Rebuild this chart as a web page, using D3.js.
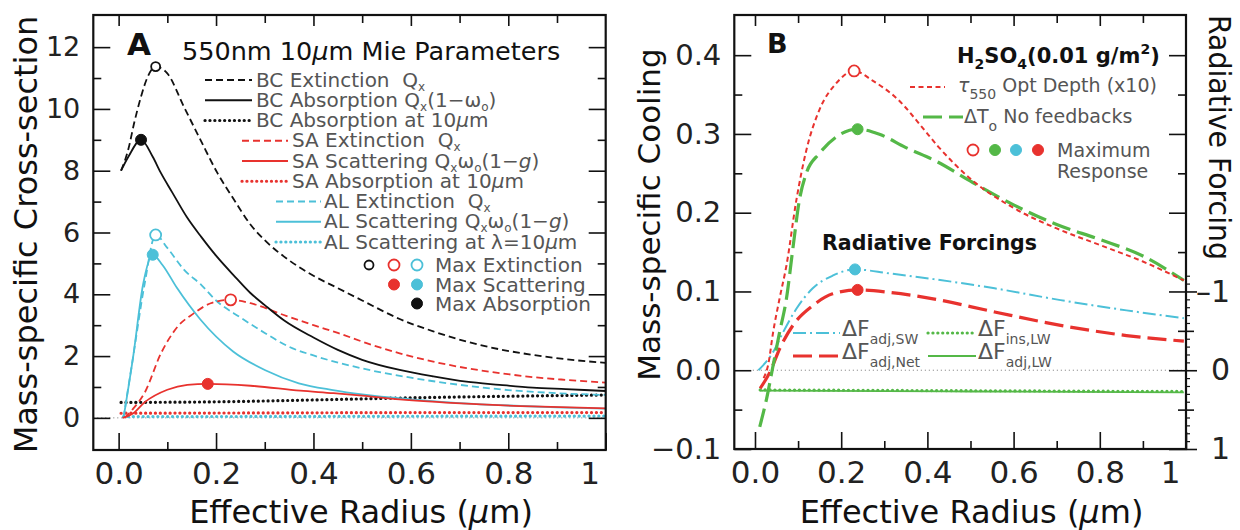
<!DOCTYPE html>
<html><head><meta charset="utf-8">
<script src="https://cdn.jsdelivr.net/npm/d3@7"></script>
<style>
body{margin:0;background:#fff}
svg{display:block}
text{font-family:"DejaVu Sans",sans-serif}
</style>
</head><body>
<svg id="c" width="1240" height="530"></svg>
<script>
// ---------------- DATA : panel A (Mie parameters) ----------------
const bcExtR = [0.005,0.02,0.032,0.046,0.06,0.076,0.1,0.134,0.168,0.203,0.237,0.271,0.3,0.35,0.4,0.45,0.5,0.577,0.646,0.714,0.782,0.85,0.918,1.0];
const bcExtV = [8.0,8.7,9.55,10.4,11.05,11.37,11.15,10.07,9.0,7.92,7.06,6.25,5.75,5.1,4.6,4.2,3.8,3.2,2.8,2.47,2.22,2.04,1.9,1.78];
const bcAbsR = [0.005,0.02,0.046,0.07,0.087,0.11,0.14,0.17,0.2,0.24,0.27,0.3,0.34,0.4,0.45,0.5,0.577,0.646,0.714,0.782,0.85,0.918,1.0];
const bcAbsV = [8.0,8.45,9.0,8.45,7.92,7.3,6.5,5.85,5.25,4.55,4.05,3.65,3.15,2.6,2.2,1.88,1.55,1.34,1.17,1.07,0.98,0.93,0.87];
const bc10R = [0.005,0.2,0.4,0.6,0.8,1.0];
const bc10V = [0.5,0.52,0.58,0.65,0.7,0.74];
const saExtR = [0.012,0.03,0.053,0.087,0.121,0.155,0.189,0.23,0.271,0.339,0.4,0.45,0.509,0.577,0.646,0.714,0.782,0.85,0.918,1.0];
const saExtV = [0.0,0.3,0.8,2.09,2.95,3.39,3.71,3.82,3.71,3.33,3.0,2.75,2.42,2.09,1.82,1.61,1.45,1.32,1.23,1.14];
const saScaR = [0.008,0.03,0.053,0.1,0.141,0.183,0.271,0.373,0.441,0.5,0.577,0.714,0.85,1.0];
const saScaV = [0.0,0.15,0.5,0.91,1.07,1.1,1.04,0.88,0.8,0.72,0.6,0.46,0.37,0.31];
const sa10R = [0.005,0.3,0.6,1.0];
const sa10V = [0.15,0.16,0.17,0.17];
const alExtR = [0.01,0.03,0.053,0.076,0.1,0.134,0.17,0.2,0.25,0.3,0.35,0.4,0.5,0.6,0.7,0.8,0.9,1.0];
const alExtV = [0.0,2.0,4.3,5.92,5.5,4.8,4.3,3.8,3.25,2.75,2.3,2.02,1.6,1.3,1.07,0.9,0.8,0.74];
const alScaR = [0.01,0.03,0.05,0.07,0.09,0.12,0.167,0.235,0.3,0.37,0.44,0.5,0.6,0.7,0.8,0.9,1.0];
const alScaV = [0.0,2.0,4.3,5.28,4.95,4.2,3.2,2.15,1.55,1.12,0.9,0.76,0.6,0.48,0.4,0.34,0.3];
const al10R = [0.01,0.5,1.0];
const al10V = [0.04,0.05,0.06];
// maxima markers [radius, value]
const maxExtA = [[0.076,11.37],[0.23,3.82],[0.076,5.92]];   // BC, SA, AL
const maxScaA = [[0.183,1.1],[0.07,5.28]];                   // SA, AL
const maxAbsA = [[0.046,9.0]];                               // BC

// ---------------- DATA : panel B (H2SO4 response) ----------------
const tauR = [0.02,0.031,0.042,0.057,0.073,0.096,0.119,0.149,0.188,0.23,0.272,0.333,0.387,0.425,0.5,0.6,0.7,0.8,0.9,0.995];
const tauV = [-0.01,0.008,0.048,0.091,0.133,0.216,0.279,0.33,0.364,0.38,0.368,0.343,0.309,0.284,0.243,0.206,0.18,0.159,0.138,0.114];
const dtR = [0.011,0.027,0.042,0.057,0.073,0.088,0.103,0.119,0.149,0.188,0.238,0.287,0.349,0.425,0.5,0.6,0.7,0.8,0.9,0.995];
const dtV = [-0.072,-0.036,0.006,0.048,0.091,0.155,0.216,0.25,0.275,0.296,0.306,0.3,0.283,0.264,0.24,0.21,0.185,0.166,0.145,0.114];
const swR = [0.008,0.042,0.065,0.096,0.134,0.18,0.232,0.31,0.41,0.556,0.709,0.862,0.995];
const swV = [0.0,0.023,0.048,0.078,0.104,0.12,0.128,0.123,0.116,0.104,0.089,0.076,0.066];
const netR = [0.012,0.035,0.057,0.088,0.134,0.18,0.238,0.31,0.41,0.556,0.709,0.862,0.995];
const netV = [-0.023,-0.002,0.027,0.057,0.082,0.097,0.102,0.099,0.091,0.074,0.057,0.044,0.037];
const insR = [0.012,0.5,0.995];
const insV = [-0.025,-0.026,-0.027];
const adjLwR = [0.012,0.5,0.995];
const adjLwV = [-0.026,-0.027,-0.028];
const maxB = { tau:[0.23,0.38], dt:[0.238,0.306], sw:[0.232,0.128], net:[0.238,0.102] };

// ---------------- ticks ----------------
const xMajor = [0,0.2,0.4,0.6,0.8,1];
const xMinor = [0.1,0.3,0.5,0.7,0.9];
const yMajorA = [0,2,4,6,8,10,12];
const yMinorA = [1,3,5,7,9,11];
const yMajorB = [-0.1,0,0.1,0.2,0.3,0.4];
const yMinorB = [-0.05,0.05,0.15,0.25,0.35];
const rMajor = [-1,0,1];
const rMid = [-0.5,0.5];
const rMinor = [-1.2,-1.1,-0.9,-0.8,-0.7,-0.6,-0.4,-0.3,-0.2,-0.1,0.1,0.2,0.3,0.4,0.6,0.7,0.8,0.9];

// ---------------- text content ----------------
const legendA = [
  [{t:"BC Extinction\u00a0\u00a0Q"},{t:"x",sub:1}],
  [{t:"BC Absorption Q"},{t:"x",sub:1},{t:"(1−ω"},{t:"o",sub:1},{t:")"}],
  [{t:"BC Absorption at 10"},{t:"µ",it:1},{t:"m"}],
  [{t:"SA Extinction\u00a0\u00a0Q"},{t:"x",sub:1}],
  [{t:"SA Scattering Q"},{t:"x",sub:1},{t:"ω"},{t:"o",sub:1},{t:"(1−"},{t:"g",it:1},{t:")"}],
  [{t:"SA Absorption at 10"},{t:"µ",it:1},{t:"m"}],
  [{t:"AL Extinction\u00a0\u00a0Q"},{t:"x",sub:1}],
  [{t:"AL Scattering Q"},{t:"x",sub:1},{t:"ω"},{t:"o",sub:1},{t:"(1−"},{t:"g",it:1},{t:")"}],
  [{t:"AL Scattering at λ=10"},{t:"µ",it:1},{t:"m"}]
];
const markLabelsA = ["Max Extinction","Max Scattering","Max Absorption"];

// ---------------- drawing ----------------
const svg = d3.select("#c");
const COL = {k:"#111", r:"#e8322e", c:"#4cc0d8", g:"#54b847", txt:"#555"};
const ST = {
  dash:{w:1.8, da:"7,4"}, solid:{w:1.8, da:null}, dot:{w:3.2, da:"0.1,4.8", cap:"round"},
  tau:{w:2, da:"5,3.5"}, long:{w:3.2, da:"19,7"}, dashdot:{w:2, da:"13,4,2,4"}
};

const xA = d3.scaleLinear([-0.052,1.0],[93.3,605.7]);
const yA = d3.scaleLinear([-1.04,13.04],[450,15]);
const xB = d3.scaleLinear([-0.048,1.0],[734.3,1186]);
const yB = d3.scaleLinear([-0.1,0.451],[449,15]);
const yR = d3.scaleLinear([1,-4.51],[449,15]);

function drawCurve(g, xs, ys, x, y, color, st){
  g.append("path")
    .attr("d", d3.line().x((d,i)=>x(xs[i])).y((d,i)=>y(ys[i])).curve(d3.curveMonotoneX)(xs))
    .attr("fill","none").attr("stroke",color).attr("stroke-width",st.w)
    .attr("stroke-dasharray",st.da).attr("stroke-linecap",st.cap||"butt");
}
function sample(g, x0, x1, yy, color, st){
  g.append("line").attr("x1",x0).attr("x2",x1).attr("y1",yy).attr("y2",yy)
    .attr("stroke",color).attr("stroke-width",st.w).attr("stroke-dasharray",st.da)
    .attr("stroke-linecap",st.cap||"butt");
}
function rich(g, x, y, parts, size, fill, opt){
  opt = opt||{};
  const t = g.append("text").attr("x",x).attr("y",y).attr("font-size",size).attr("fill",fill);
  if(opt.weight) t.attr("font-weight",opt.weight);
  const small = opt.small||Math.round(size*0.66);
  let cur = 0;
  parts.forEach(p=>{
    const off = p.sub ? (opt.subOff||size*0.32) : p.sup ? -size*0.42 : 0;
    const ts = t.append("tspan").attr("dy", off-cur).text(p.t);
    if(p.sub||p.sup) ts.attr("font-size",small);
    if(p.it) ts.attr("font-style","italic");
    cur = off;
  });
  return t;
}
function marker(g, cx, cy, color, open, r){
  g.append("circle").attr("cx",cx).attr("cy",cy).attr("r",r||5.5)
    .attr("fill",open?"#fff":color).attr("stroke",color).attr("stroke-width",open?1.8:1);
}
function styleAxis(g, size){
  g.select(".domain").remove();
  g.selectAll("line").attr("stroke","#111").attr("stroke-width",1.6);
  g.selectAll("text").attr("font-size",size).attr("font-family","DejaVu Sans").attr("fill","#222");
  g.attr("font-family",null);
}
const fmtX = d => d===1 ? "1" : d3.format(".1f")(d);

function frameAxes(x, y, yMaj, yMin, yFmt, yFont, left, right, top, bottom){
  const g = svg.append("g");
  g.append("g").attr("transform",`translate(0,${bottom})`)
    .call(d3.axisBottom(x).tickValues(xMajor).tickSize(-17).tickPadding(12).tickFormat(fmtX))
    .call(a=>styleAxis(a,31))
    .call(a=>a.selectAll(".tick text").filter(d=>d===1).attr("dx",-16));
  g.append("g").attr("transform",`translate(0,${bottom})`)
    .call(d3.axisBottom(x).tickValues(xMinor).tickSize(-8).tickFormat(""))
    .call(a=>styleAxis(a,10));
  g.append("g").attr("transform",`translate(0,${top})`)
    .call(d3.axisTop(x).tickValues(xMajor.filter(d=>x(d)<right-2)).tickSize(-11).tickFormat(""))
    .call(a=>styleAxis(a,10));
  g.append("g").attr("transform",`translate(0,${top})`)
    .call(d3.axisTop(x).tickValues(xMinor).tickSize(-8).tickFormat(""))
    .call(a=>styleAxis(a,10));
  g.append("g").attr("transform",`translate(${left},0)`)
    .call(d3.axisLeft(y).tickValues(yMaj).tickSize(-17).tickPadding(13).tickFormat(yFmt))
    .call(a=>styleAxis(a,yFont));
  g.append("g").attr("transform",`translate(${left},0)`)
    .call(d3.axisLeft(y).tickValues(yMin).tickSize(-8).tickFormat(""))
    .call(a=>styleAxis(a,10));
  g.append("g").attr("transform",`translate(${right},0)`)
    .call(d3.axisRight(y).tickValues(yMaj).tickSize(-17).tickFormat(""))
    .call(a=>styleAxis(a,10));
  g.append("g").attr("transform",`translate(${right},0)`)
    .call(d3.axisRight(y).tickValues(yMin).tickSize(-8).tickFormat(""))
    .call(a=>styleAxis(a,10));
  g.append("rect").attr("x",left).attr("y",top).attr("width",right-left).attr("height",bottom-top)
    .attr("fill","none").attr("stroke","#111").attr("stroke-width",2.2);
  return g;
}

// ================= PANEL A =================
const pA = svg.append("g");
pA.append("line").attr("x1",xA(-0.052)).attr("x2",xA(1)).attr("y1",yA(0)).attr("y2",yA(0))
  .attr("stroke","#777").attr("stroke-width",1).attr("stroke-dasharray","1,3");
drawCurve(pA, al10R, al10V, xA, yA, COL.c, ST.dot);
drawCurve(pA, sa10R, sa10V, xA, yA, COL.r, ST.dot);
drawCurve(pA, bc10R, bc10V, xA, yA, COL.k, ST.dot);
drawCurve(pA, alScaR, alScaV, xA, yA, COL.c, ST.solid);
drawCurve(pA, alExtR, alExtV, xA, yA, COL.c, ST.dash);
drawCurve(pA, saScaR, saScaV, xA, yA, COL.r, ST.solid);
drawCurve(pA, saExtR, saExtV, xA, yA, COL.r, ST.dash);
drawCurve(pA, bcAbsR, bcAbsV, xA, yA, COL.k, ST.solid);
drawCurve(pA, bcExtR, bcExtV, xA, yA, COL.k, ST.dash);
marker(pA, xA(maxExtA[0][0]), yA(maxExtA[0][1]), COL.k, true, 4.5);
marker(pA, xA(maxExtA[1][0]), yA(maxExtA[1][1]), COL.r, true);
marker(pA, xA(maxExtA[2][0]), yA(maxExtA[2][1]), COL.c, true);
marker(pA, xA(maxScaA[0][0]), yA(maxScaA[0][1]), COL.r, false);
marker(pA, xA(maxScaA[1][0]), yA(maxScaA[1][1]), COL.c, false);
marker(pA, xA(maxAbsA[0][0]), yA(maxAbsA[0][1]), COL.k, false);

frameAxes(xA, yA, yMajorA, yMinorA, d=>String(d), 27, 93.3, 605.7, 15, 450);

svg.append("text").attr("x",127).attr("y",55).attr("font-size",31).attr("font-weight","bold").attr("fill","#111").text("A");
rich(svg, 182, 60, [{t:"550nm 10"},{t:"µ",it:1},{t:"m Mie Parameters"}], 25.5, "#111");
const legColors = [COL.k,COL.k,COL.k,COL.r,COL.r,COL.r,COL.c,COL.c,COL.c];
const legStyles = [ST.dash,ST.solid,ST.dot,ST.dash,ST.solid,ST.dot,ST.dash,ST.solid,ST.dot];
const legLineX = [[205,252],[242,288],[276,321]];
const legTextX = [256,292,324];
legendA.forEach((parts,i)=>{
  const grp = Math.floor(i/3);
  const ly = 80 + i*20.25;
  sample(svg, legLineX[grp][0], legLineX[grp][1], ly, legColors[i], legStyles[i]);
  rich(svg, legTextX[grp], ly+6.5, parts, 20, COL.txt, {small:12, subOff:4});
});
const mkRowY = [265, 284.5, 303.5];
marker(svg, 369, mkRowY[0], COL.k, true, 4.5);
marker(svg, 394, mkRowY[0], COL.r, true);
marker(svg, 417, mkRowY[0], COL.c, true);
marker(svg, 394, mkRowY[1], COL.r, false);
marker(svg, 417, mkRowY[1], COL.c, false);
marker(svg, 417, mkRowY[2], COL.k, false);
markLabelsA.forEach((s,i)=>svg.append("text").attr("x",435).attr("y",mkRowY[i]+7).attr("font-size",20).attr("fill",COL.txt).text(s));

svg.append("text").attr("transform","translate(37,234.5) rotate(-90)").attr("text-anchor","middle")
  .attr("font-size",32).attr("fill","#111").text("Mass-specific Cross-section");
rich(svg, 361, 523, [{t:"Effective Radius ("},{t:"µ",it:1},{t:"m)"}], 32, "#111").attr("text-anchor","middle");

// ================= PANEL B =================
const pB = svg.append("g");
pB.append("line").attr("x1",xB(-0.005)).attr("x2",xB(1)).attr("y1",yB(0)).attr("y2",yB(0))
  .attr("stroke","#777").attr("stroke-width",1).attr("stroke-dasharray","1,3");
drawCurve(pB, adjLwR, adjLwV, xB, yB, COL.g, ST.solid);
drawCurve(pB, insR, insV, xB, yB, COL.g, ST.dot);
drawCurve(pB, swR, swV, xB, yB, COL.c, ST.dashdot);
drawCurve(pB, netR, netV, xB, yB, COL.r, ST.long);
drawCurve(pB, dtR, dtV, xB, yB, COL.g, ST.long);
drawCurve(pB, tauR, tauV, xB, yB, COL.r, ST.tau);
marker(pB, xB(maxB.tau[0]), yB(maxB.tau[1]), COL.r, true);
marker(pB, xB(maxB.dt[0]), yB(maxB.dt[1]), COL.g, false);
marker(pB, xB(maxB.sw[0]), yB(maxB.sw[1]), COL.c, false);
marker(pB, xB(maxB.net[0]), yB(maxB.net[1]), COL.r, false);

frameAxes(xB, yB, yMajorB, yMinorB, d3.format(".1f"), 29, 734.3, 1186, 15, 449);

svg.append("g").attr("transform","translate(1186,0)")
  .call(d3.axisRight(yR).tickValues(rMajor).tickSize(11).tickPadding(14).tickFormat(d=>d<0?"–"+(-d):String(d)))
  .call(a=>styleAxis(a,30))
  .call(a=>a.selectAll(".tick text").filter(d=>d<0).attr("dx",-15));
svg.append("g").attr("transform","translate(1186,0)")
  .call(d3.axisRight(yR).tickValues(rMid).tickSize(8).tickFormat(""))
  .call(a=>styleAxis(a,10));
svg.append("g").attr("transform","translate(1186,0)")
  .call(d3.axisRight(yR).tickValues(rMinor).tickSize(4).tickFormat(""))
  .call(a=>styleAxis(a,10))
  .call(a=>a.selectAll("line").attr("stroke-width",1.2));

svg.append("text").attr("x",767).attr("y",53).attr("font-size",27).attr("font-weight","bold").attr("fill","#111").text("B");
rich(svg, 957, 63, [{t:"H"},{t:"2",sub:1},{t:"SO"},{t:"4",sub:1},{t:"(0.01 g/m"},{t:"2",sup:1},{t:")"}], 21, "#111", {weight:"bold", small:14, subOff:6});
sample(svg, 910, 945, 87, COL.r, ST.tau);
rich(svg, 958, 92, [{t:"τ",it:1},{t:"550",sub:1},{t:" Opt Depth (x10)"}], 19, COL.txt, {small:14, subOff:7});
sample(svg, 923, 963, 117, COL.g, ST.long);
rich(svg, 964, 123, [{t:"ΔT"},{t:"o",sub:1},{t:" No feedbacks"}], 19, COL.txt, {small:14, subOff:8});
marker(svg, 973, 150, COL.r, true);
marker(svg, 995, 150, COL.g, false);
marker(svg, 1016, 150, COL.c, false);
marker(svg, 1038, 150, COL.r, false);
svg.append("text").attr("x",1057).attr("y",157).attr("font-size",19).attr("fill",COL.txt).text("Maximum");
svg.append("text").attr("x",1057).attr("y",178).attr("font-size",19).attr("fill",COL.txt).text("Response");
svg.append("text").attr("x",929.5).attr("y",250).attr("text-anchor","middle").attr("font-size",21)
  .attr("font-weight","bold").attr("fill","#111").attr("textLength",215).attr("lengthAdjust","spacingAndGlyphs")
  .text("Radiative Forcings");

sample(svg, 793, 840, 333, COL.c, ST.dashdot);
rich(svg, 842, 336, [{t:"ΔF"},{t:"adj,SW",sub:1}], 22, COL.txt, {small:14, subOff:8});
sample(svg, 793, 840, 356, COL.r, ST.long);
rich(svg, 842, 359, [{t:"ΔF"},{t:"adj,Net",sub:1}], 22, COL.txt, {small:14, subOff:8});
sample(svg, 928, 976, 333, COL.g, ST.dot);
rich(svg, 978, 336, [{t:"ΔF"},{t:"ins,LW",sub:1}], 22, COL.txt, {small:14, subOff:8});
sample(svg, 928, 976, 356, COL.g, ST.solid);
rich(svg, 978, 359, [{t:"ΔF"},{t:"adj,LW",sub:1}], 22, COL.txt, {small:14, subOff:8});

svg.append("text").attr("transform","translate(660,214.5) rotate(-90)").attr("text-anchor","middle")
  .attr("font-size",31).attr("fill","#111").text("Mass-specific Cooling");
svg.append("text").attr("transform","translate(1209,137.5) rotate(90)").attr("text-anchor","middle")
  .attr("font-size",30).attr("fill","#111").attr("textLength",245).attr("lengthAdjust","spacingAndGlyphs")
  .text("Radiative Forcing");
rich(svg, 971.5, 523, [{t:"Effective Radius ("},{t:"µ",it:1},{t:"m)"}], 32, "#111").attr("text-anchor","middle");
</script>
</body></html>
